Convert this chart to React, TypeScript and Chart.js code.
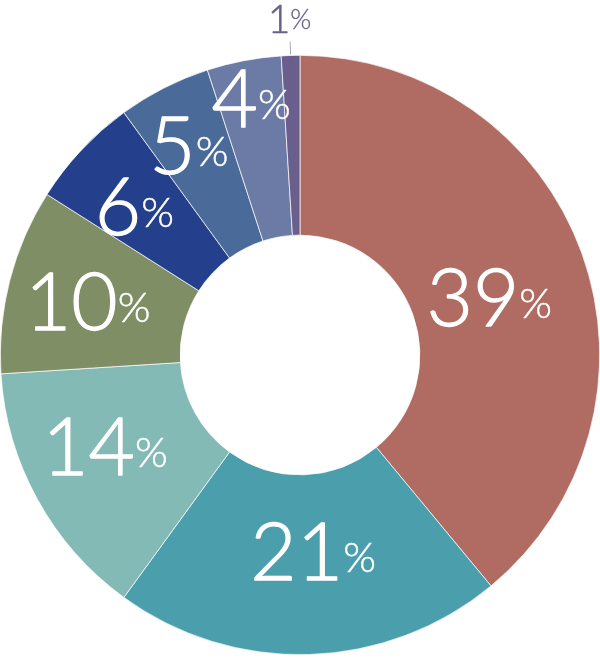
import React, { useEffect, useRef } from "react";
import { Chart, registerables, Plugin } from "chart.js";

Chart.register(...registerables);

// slice shares in percent, clockwise from 12 o'clock
const categories = ["A", "B", "C", "D", "E", "F", "G", "H"];
const shares = [39, 21, 14, 10, 6, 5, 4, 1];
const sliceColors = [
  "#b06b62",
  "#4b9fad",
  "#83bab5",
  "#7f8e64",
  "#243f8b",
  "#4a6a9a",
  "#6c7ba6",
  "#6a5f8c",
];

// label placement (fraction of outer radius, angle nudge in degrees) and type sizes per slice
const labelRadius = [0.66, 0.66, 0.72, 0.73, 0.74, 0.79, 0.87, 1.12];
const labelAngleShift = [3, -2, 3.5, -0.5, -1.5, -1, 0, 0];
const numberSize = [80, 80, 80, 80, 80, 80, 80, 39];
const percentSize = [42, 42, 42, 42, 42, 42, 42, 27];
const labelColor = ["#fff", "#fff", "#fff", "#fff", "#fff", "#fff", "#fff", "#6a5f8c"];

const FONT = "Lato, 'Open Sans', sans-serif";

const percentLabels: Plugin<"doughnut"> = {
  id: "percentLabels",
  afterDatasetsDraw(chart) {
    const { ctx } = chart;
    const meta = chart.getDatasetMeta(0);
    meta.data.forEach((el: any, i: number) => {
      const { x, y, startAngle, endAngle, outerRadius } = el.getProps(
        ["x", "y", "startAngle", "endAngle", "outerRadius"],
        true
      );
      const mid = (startAngle + endAngle) / 2;
      const a = mid + (labelAngleShift[i] * Math.PI) / 180;
      const r = outerRadius * labelRadius[i];
      const cx = x + Math.cos(a) * r;
      const cy = y + Math.sin(a) * r;

      const num = String(shares[i]);
      ctx.save();
      ctx.font = `300 ${numberSize[i]}px ${FONT}`;
      const nw = ctx.measureText(num).width;
      ctx.font = `300 ${percentSize[i]}px ${FONT}`;
      const pw = ctx.measureText("%").width;
      const gap = 0;
      const total = nw + gap + pw;
      const left = cx - total / 2;
      const baseline = cy + numberSize[i] * 0.35;
      const pctLift = numberSize[i] * 0.1;

      ctx.fillStyle = labelColor[i];
      ctx.strokeStyle = labelColor[i];
      ctx.lineJoin = "round";
      ctx.textBaseline = "alphabetic";
      ctx.textAlign = "left";
      ctx.font = `300 ${numberSize[i]}px ${FONT}`;
      ctx.lineWidth = numberSize[i] * 0.016;
      ctx.fillText(num, left, baseline);
      ctx.strokeText(num, left, baseline);
      ctx.font = `300 ${percentSize[i]}px ${FONT}`;
      ctx.lineWidth = percentSize[i] * 0.012;
      ctx.fillText("%", left + nw + gap, baseline - pctLift);
      ctx.strokeText("%", left + nw + gap, baseline - pctLift);

      // leader line for the label that sits outside the ring
      if (labelRadius[i] > 1) {
        ctx.strokeStyle = "#a9a6bd";
        ctx.lineWidth = 1;
        ctx.beginPath();
        ctx.moveTo(x + Math.cos(mid) * (outerRadius + 1), y + Math.sin(mid) * (outerRadius + 1));
        ctx.lineTo(x + Math.cos(mid) * (outerRadius + 14), y + Math.sin(mid) * (outerRadius + 14));
        ctx.stroke();
      }
      ctx.restore();
    });
  },
};

const App: React.FC = () => {
  const canvasRef = useRef<HTMLCanvasElement | null>(null);

  useEffect(() => {
    const ctx = canvasRef.current?.getContext("2d");
    if (!ctx) return;

    const chart = new Chart(ctx, {
      type: "doughnut",
      data: {
        labels: categories,
        datasets: [
          {
            data: shares,
            backgroundColor: sliceColors,
            borderColor: "#ffffff",
            borderWidth: 0.7,
          },
        ],
      },
      options: {
        animation: false,
        responsive: true,
        maintainAspectRatio: false,
        cutout: "40%",
        rotation: 0,
        layout: { padding: { top: 55, bottom: 3, left: 0, right: 0 } },
        plugins: {
          legend: { display: false },
          tooltip: { enabled: false },
        },
      },
      plugins: [percentLabels],
    });

    return () => {
      chart.destroy();
    };
  }, []);

  return (
    <div style={{ position: "absolute", left: 0, top: 0, width: "600px", height: "658px" }}>
      <canvas ref={canvasRef} />
    </div>
  );
};

export default App;
